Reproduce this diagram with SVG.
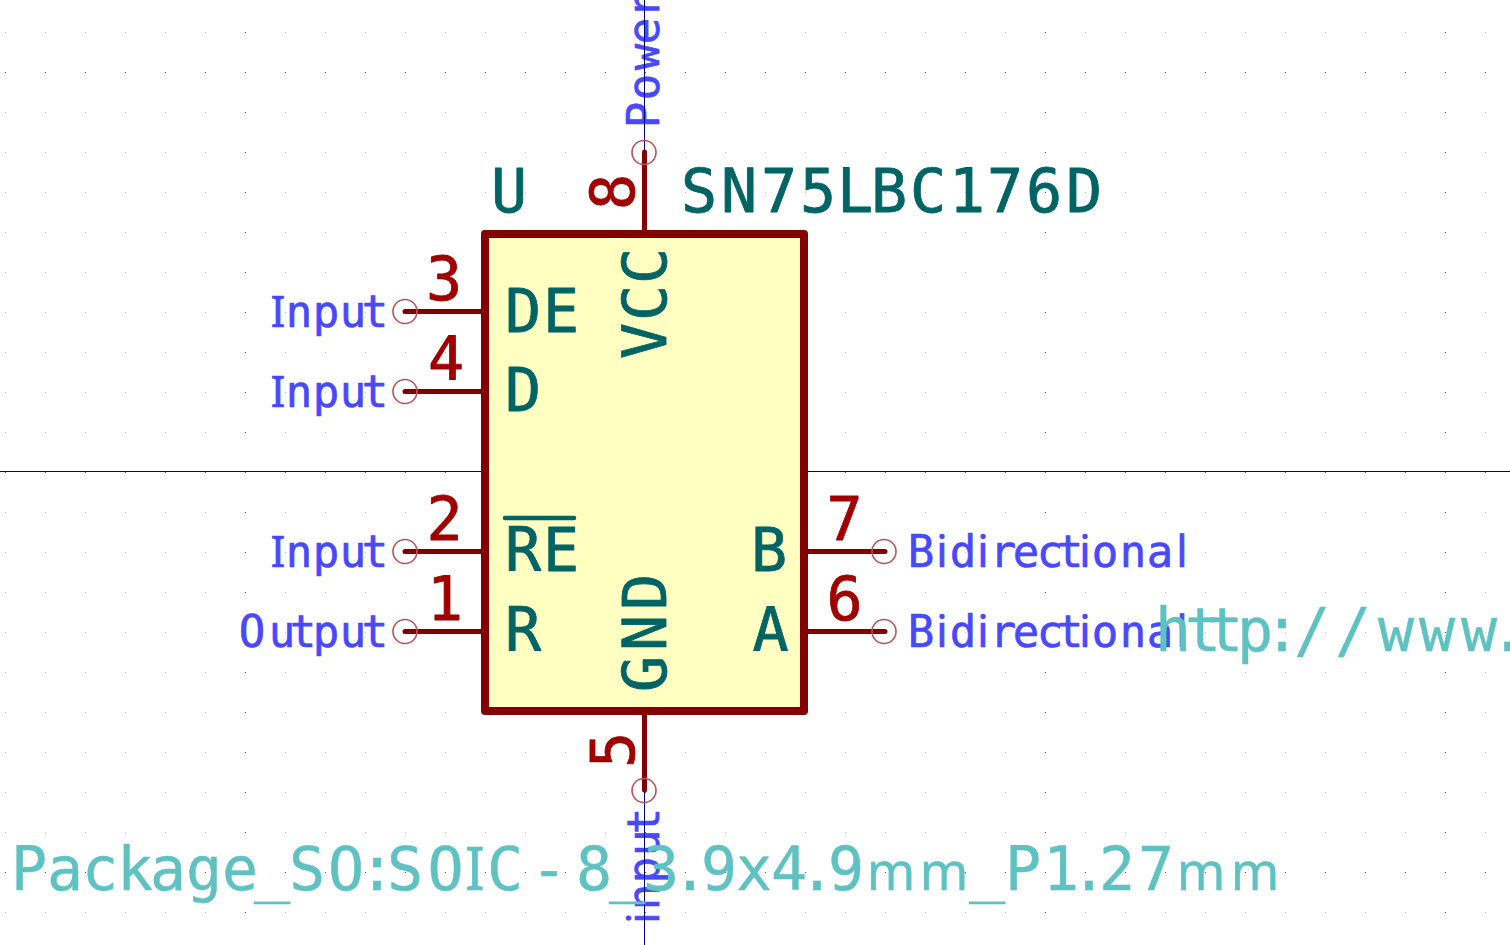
<svg xmlns="http://www.w3.org/2000/svg" width="1510" height="945" viewBox="0 0 1510 945">
<style>
text{font-family:"DejaVu Sans Mono","Liberation Mono",monospace;text-anchor:middle;stroke-linejoin:round;paint-order:stroke}
.s{font-family:"Noto Sans","Liberation Sans",sans-serif}
.m{font-family:"Noto Sans","Liberation Sans",sans-serif;font-size:52px}
.t{fill:#006464;stroke:#006464;stroke-width:.8;font-size:60px}
.n{fill:#a00000;stroke:#a00000;stroke-width:.8;font-size:60px}
.b{fill:#4848ff;stroke:#4848ff;stroke-width:.6;font-size:44px}
.c{fill:#5fc2c2;stroke:#5fc2c2;stroke-width:.4;font-size:60px}
.pin{stroke:#840000;stroke-width:5;stroke-linecap:round;fill:none}
.ring{stroke:#b9545a;stroke-width:1.6;fill:none}
.axis{stroke:#000084;stroke-width:1;fill:none}
</style>
<defs>
<pattern id="gridMinor" width="40" height="40" patternUnits="userSpaceOnUse" x="5" y="32"><rect width="1" height="1" fill="#c4c4c4"/></pattern>
<pattern id="gridColumn" width="400" height="40" patternUnits="userSpaceOnUse" x="245" y="32"><rect width="1" height="1" fill="#555"/></pattern>
<pattern id="gridRow" width="40" height="400" patternUnits="userSpaceOnUse" x="5" y="72"><rect width="1" height="1" fill="#555"/></pattern>
</defs>
<rect width="1510" height="945" fill="#fff"/>
<g id="grid">
<rect width="1510" height="945" fill="url(#gridMinor)"/>
<rect width="1510" height="945" fill="url(#gridColumn)"/>
<rect width="1510" height="945" fill="url(#gridRow)"/>
</g>
<g id="pin-type-labels">
<text class="b" x="278 299 326 353 375" y="327"><tspan class="s">I</tspan>nput</text>
<text class="b" x="278 299 326 353 375" y="407"><tspan class="s">I</tspan>nput</text>
<text class="b" x="278 299 326 353 375" y="567"><tspan class="s">I</tspan>nput</text>
<text class="b" x="252 282 303 326 353 375" y="647">Output</text>
<text class="b" x="921 942 963 983 1003 1026 1050 1070 1085 1105 1133 1160 1182" y="567">B<tspan class="s">i</tspan>d<tspan class="s">i</tspan>rect<tspan class="s">i</tspan>ona<tspan class="s">l</tspan></text>
<text class="b" x="921 942 963 983 1003 1026 1050 1070 1085 1105 1133 1160 1182" y="647">B<tspan class="s">i</tspan>d<tspan class="s">i</tspan>rect<tspan class="s">i</tspan>ona<tspan class="s">l</tspan></text>
<text class="b" transform="translate(659 126) rotate(-90)" x="11 39 69 95 121" y="0">Power</text>
<text class="b" transform="translate(659 921) rotate(-90)" x="3 24 51 78 100" y="0"><tspan class="s">i</tspan>nput</text>
</g>
<g id="connectors">
<path class="axis" d="M0 471.500H1510M644.500 0V945"/>
</g>
<g id="body"><rect x="485" y="234" width="319" height="477" fill="#ffffc2" stroke="#840000" stroke-width="8" stroke-linejoin="round"/></g>
<g id="pin-3"><path class="pin" d="M405 311.500H483"/><circle class="ring" cx="405" cy="311.500" r="12"/><text class="n" x="444" y="300">3</text><text class="t" x="523 561" y="332">DE</text></g>
<g id="pin-4"><path class="pin" d="M405 391.500H483"/><circle class="ring" cx="405" cy="391.500" r="12"/><text class="n" x="446" y="380">4</text><text class="t" x="523" y="411">D</text></g>
<g id="pin-2"><path class="pin" d="M405 551.500H483"/><circle class="ring" cx="405" cy="551.500" r="12"/><text class="n" x="444.500" y="540">2</text><text class="t" x="523 561" y="571">RE</text><path d="M505 518H574" stroke="#006464" stroke-width="4.500" stroke-linecap="round" fill="none"/></g>
<g id="pin-1"><path class="pin" d="M405 631.500H483"/><circle class="ring" cx="405" cy="631.500" r="12"/><text class="n" x="445" y="620">1</text><text class="t" x="523" y="651">R</text></g>
<g id="pin-7"><path class="pin" d="M806 551.500H885"/><circle class="ring" cx="884" cy="551.500" r="12"/><text class="n" x="844.500" y="540">7</text><text class="t" x="769" y="571">B</text></g>
<g id="pin-6"><path class="pin" d="M806 631.500H885"/><circle class="ring" cx="884" cy="631.500" r="12"/><text class="n" x="844.500" y="620">6</text><text class="t" x="770.500" y="651">A</text></g>
<g id="pin-8"><path class="pin" d="M644.500 152V232"/><circle class="ring" cx="644" cy="152.500" r="12"/><text class="n" transform="translate(634 192) rotate(-90)">8</text><text class="t" transform="translate(666 0) rotate(-90)" x="-341 -303 -266" y="0">VCC</text></g>
<g id="pin-5"><path class="pin" d="M644.500 712V790"/><circle class="ring" cx="644" cy="790.500" r="12"/><text class="n" transform="translate(634 750) rotate(-90)">5</text><text class="t" transform="translate(666 0) rotate(-90)" x="-674 -633 -592" y="0">GND</text></g>
<g id="reference-field"><text class="t" x="509" y="212">U</text></g>
<g id="value-field"><text class="t" x="699 739 779 818 855 889 928 967 1005 1044 1084" y="212">SN75LBC176D</text></g>
<g id="footprint-field"><text class="c" x="29 65 100 135 168 204 240 272 307 346 377 405 445.500 475 505 549 594 627 661 690 719 754 789 817 846 891 944 987 1023 1061 1089 1117 1156 1201 1255" y="890">Package_SO:SO<tspan class="s">I</tspan>C-8_3.9x4.9<tspan class="m">mm</tspan>_P1.27<tspan class="m">mm</tspan></text></g>
<g id="datasheet-field"><text class="c" x="1173 1203 1225 1255 1282 1312 1353 1396 1437 1479 1508" y="651">http://www.</text></g>
</svg>
